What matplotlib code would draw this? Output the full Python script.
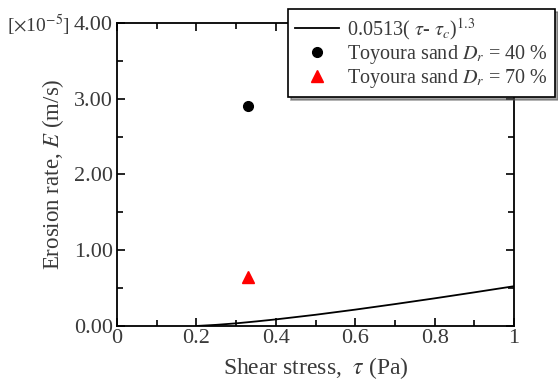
import numpy as np
import matplotlib
matplotlib.use("Agg")
import matplotlib.pyplot as plt
from matplotlib.ticker import MultipleLocator, FormatStrFormatter

plt.rcParams['font.family'] = ['Liberation Serif', 'DejaVu Serif']
plt.rcParams['mathtext.fontset'] = 'stix'

# curve 0.0513(tau - tau_c)^1.3 (E in 1e-5 m/s)
tau_fit = [0.20, 0.25, 0.30, 0.35, 0.40, 0.50, 0.60, 0.70, 0.80, 0.90, 1.00]
e_fit = [0.0, 0.015, 0.035, 0.06, 0.087, 0.148, 0.216, 0.289, 0.365, 0.444, 0.525]

# measured points
tau_40 = [0.33]
e_40 = [2.91]
tau_70 = [0.33]
e_70 = [0.65]

labels = [r'0.0513( $\tau$- $\tau_c$)$^{1.3}$',
          r'Toyoura sand $D_r$ = 40 %',
          r'Toyoura sand $D_r$ = 70 %']

grey = '#3a3a3a'

fig = plt.figure(figsize=(5.58, 3.81), dpi=100)
ax = fig.add_axes([0.2097, 0.1444, 0.7115, 0.7952])

ax.plot(tau_fit, e_fit, color='black', lw=1.3, label=labels[0])
ax.plot(tau_40, e_40, 'o', color='black', ms=7, label=labels[1])
ax.plot(tau_70, e_70, '^', color='red', ms=8, label=labels[2])

ax.set_xlim(0, 1)
ax.set_ylim(0, 4)
ax.xaxis.set_major_locator(MultipleLocator(0.2))
ax.xaxis.set_minor_locator(MultipleLocator(0.1))
ax.yaxis.set_major_locator(MultipleLocator(1.0))
ax.yaxis.set_minor_locator(MultipleLocator(0.5))
ax.yaxis.set_major_formatter(FormatStrFormatter('%.2f'))
ax.xaxis.set_major_formatter(lambda v, p: '%g' % round(v, 2))

ax.tick_params(which='both', direction='in', top=True, right=True,
               labelsize=16, labelcolor=grey, width=1.2, pad=2)
ax.tick_params(axis='y', pad=3)
ax.tick_params(which='major', length=6)
ax.tick_params(which='minor', length=4)
for s in ax.spines.values():
    s.set_linewidth(1.3)

ax.set_xlabel(r'Shear stress,  $\tau$ (Pa)', fontsize=17, color=grey, labelpad=5)
ax.set_ylabel(r'Erosion rate, $E$ (m/s)', fontsize=16.5, color=grey, labelpad=6)

fig.text(0.012, 0.932, r'[$\times$10$^{-5}$]', fontsize=14, color=grey,
         va='center', ha='left')

leg = ax.legend(loc='upper left', bbox_to_anchor=(0.516, 0.976),
                bbox_transform=fig.transFigure, borderaxespad=0,
                fontsize=14.5, frameon=True, fancybox=False, shadow=True,
                handlelength=2.2, handletextpad=0.4, labelspacing=0.05,
                borderpad=0.35, framealpha=1)
leg.get_frame().set_edgecolor('black')
leg.get_frame().set_linewidth(1.2)
for t in leg.get_texts():
    t.set_color(grey)

fig.savefig('out.png', dpi=100)
